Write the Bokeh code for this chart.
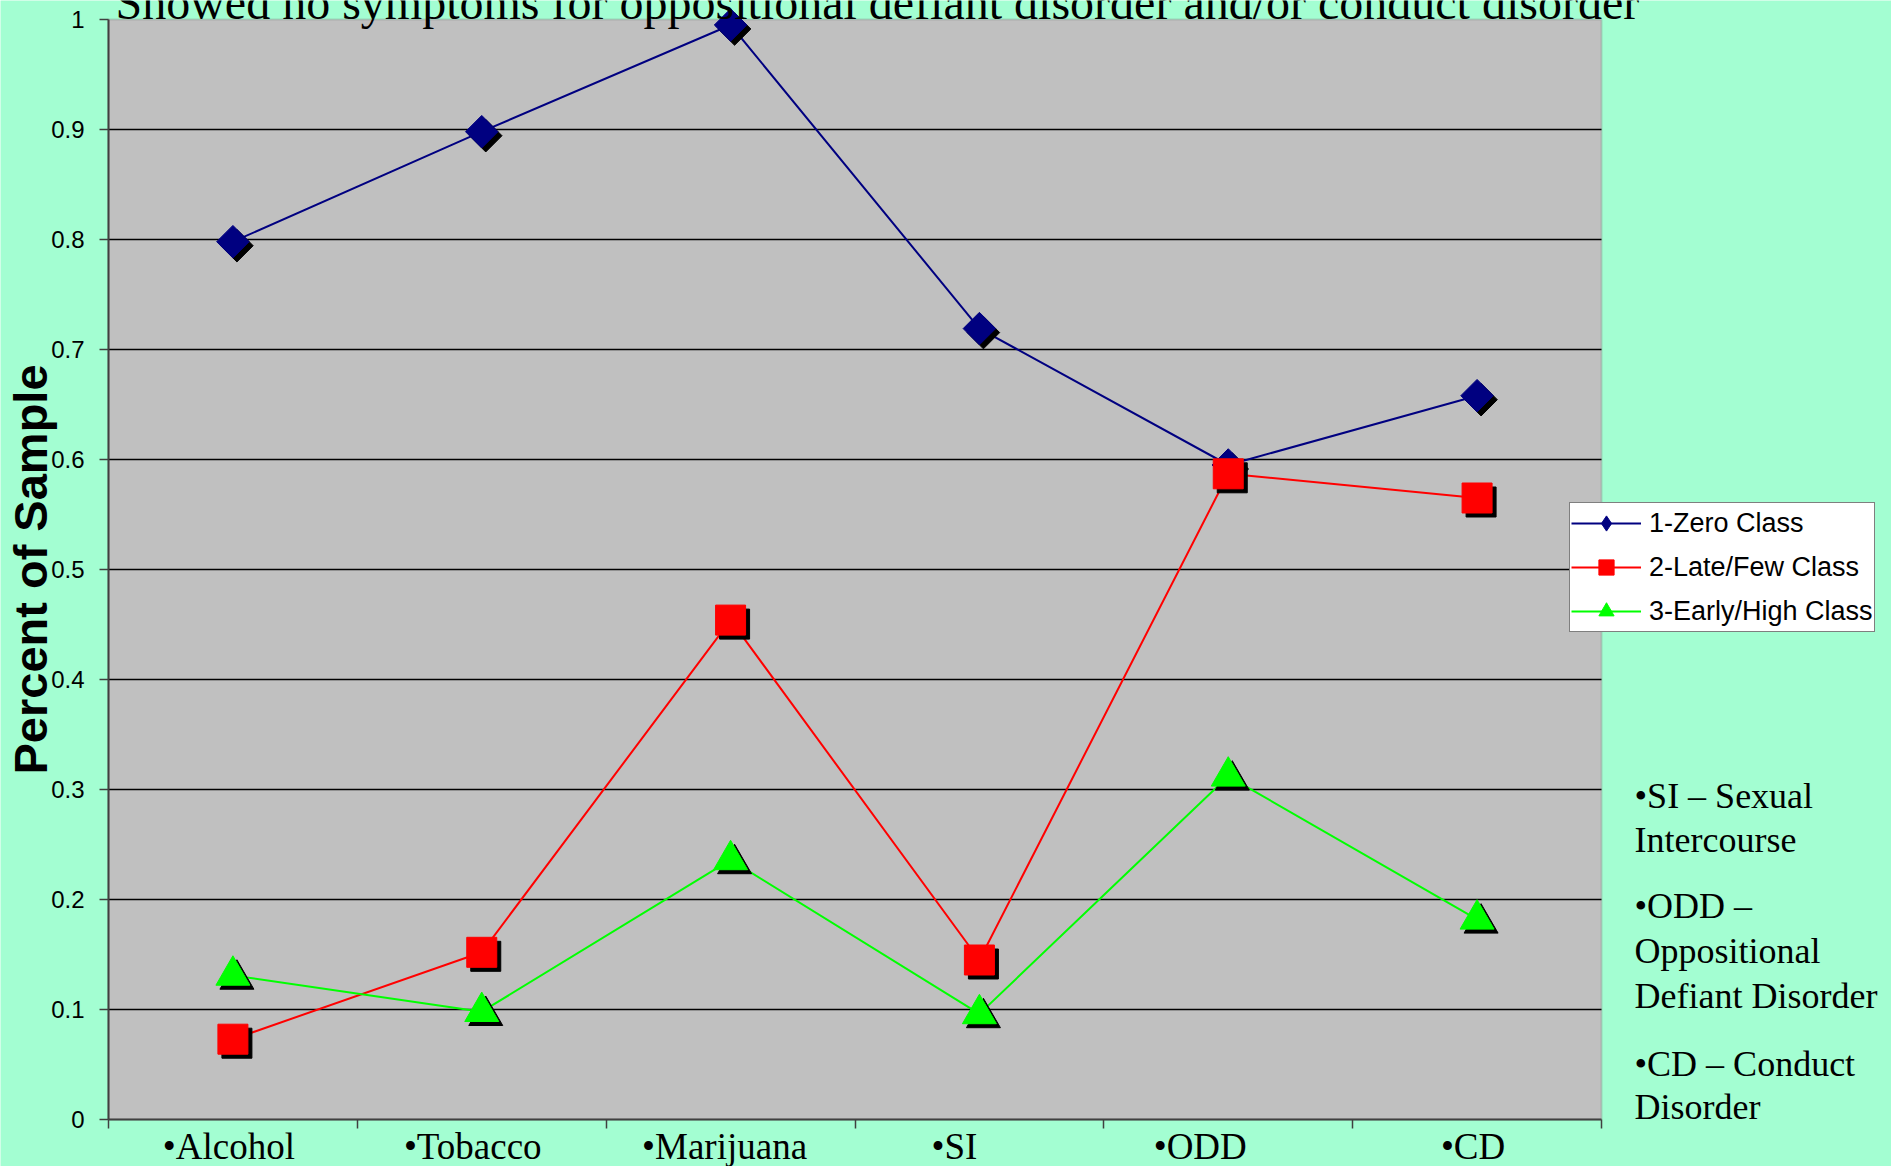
import numpy as np
from bokeh.plotting import figure
from bokeh.models import (ColumnDataSource, Range1d, FixedTicker, Label, LabelSet,
                          Legend, LegendItem, BoxAnnotation)
from bokeh.transform import dodge
from bokeh.core.properties import value
from bokeh.embed import file_html
from bokeh.resources import INLINE

# ---------------- data ----------------
categories = ["•Alcohol", "•Tobacco", "•Marijuana", "•SI", "•ODD", "•CD"]
zero_class = [0.798, 0.898, 0.995, 0.719, 0.595, 0.658]
late_few_class = [0.073, 0.152, 0.454, 0.145, 0.587, 0.565]
early_high_class = [0.131, 0.098, 0.236, 0.096, 0.312, 0.182]
series_names = ["1-Zero Class", "2-Late/Few Class", "3-Early/High Class"]
y_ticks = [0, 0.1, 0.2, 0.3, 0.4, 0.5, 0.6, 0.7, 0.8, 0.9, 1.0]
y_tick_labels = ["0", "0.1", "0.2", "0.3", "0.4", "0.5", "0.6", "0.7", "0.8", "0.9", "1"]
title_text = "Showed no symptoms for oppositional defiant disorder and/or conduct disorder"
y_axis_title = "Percent of Sample"
note_lines = ["•SI – Sexual", "Intercourse", "•ODD –", "Oppositional",
              "Defiant Disorder", "•CD – Conduct", "Disorder"]

# ---------------- styling / layout (pixels on the page) ----------------
BG = "#a3fed2"
SERIF = "Liberation Serif"
SANS = "Liberation Sans"
W, H = 1891, 1166
AX_X, AX_Y = 108, 1119           # page position of the axes' origin
PLOT_W, PLOT_H = 1493, 1100      # page size of the gray plot area
note_x_px = 1634
note_baseline_px = [807, 851, 917, 962, 1007, 1075, 1118]
title_x_px, title_baseline_px = 115, 18
ylab_baseline_px, ylab_center_px = 46, 569
cat_label_baseline_px = 1158
cat_label_shift_px = [-4, -9, -6, -25, -28, -4]
BASE_SHIFT = 0.33                # baseline correction for single labels, in em

n = len(categories)
centers = list(np.arange(n) + 0.5)
bounds_x = list(range(n + 1))
px_x = PLOT_W / n
px_y = PLOT_H / 1.0


def dx_(px):
    return (px - AX_X) / px_x


def dy_(px):
    return (AX_Y - px) / px_y


src = ColumnDataSource(dict(x=centers, zero=zero_class, late=late_few_class,
                            early=early_high_class))
cat_src = ColumnDataSource(dict(x=centers, y=[0.0] * n, text=categories,
                                xoff=cat_label_shift_px))

p = figure(width=W, height=H, x_range=Range1d(dx_(0), dx_(W)),
           y_range=Range1d(dy_(H), dy_(0)),
           output_backend="svg", toolbar_location=None,
           min_border_left=0, min_border_right=0, min_border_top=0,
           min_border_bottom=0)
p.background_fill_color = BG
p.border_fill_color = BG
p.outline_line_color = None

# plot area (gray box spanning the axis ranges)
p.add_layout(BoxAnnotation(left=0, right=n, bottom=y_ticks[0], top=y_ticks[-1],
                           fill_color="#c0c0c0", fill_alpha=1.0,
                           line_color="#808080", line_width=2, level="image"))

# x axis: tick marks at category boundaries
p.xaxis.fixed_location = 0
p.xaxis.ticker = FixedTicker(ticks=[], minor_ticks=bounds_x)
p.xaxis.bounds = (0, n)
p.xaxis.minor_tick_out = 9
p.xaxis.minor_tick_in = 0
p.xaxis.minor_tick_line_color = "#404040"
p.xaxis.minor_tick_line_width = 1.5
p.xaxis.axis_line_color = "#404040"
p.xaxis.axis_line_width = 2

# category labels under the axis
p.add_layout(LabelSet(x="x", y="y", text="text", source=cat_src, x_offset="xoff",
                      y_offset=-(cat_label_baseline_px - AX_Y),
                      text_align="center", text_baseline="alphabetic",
                      text_font=value(SERIF), text_font_size="37px",
                      text_color="black"))

# y axis
p.yaxis.fixed_location = 0
p.yaxis.ticker = FixedTicker(ticks=y_ticks)
p.yaxis.bounds = (y_ticks[0], y_ticks[-1])
p.yaxis.major_label_overrides = dict(zip(y_ticks, y_tick_labels))
p.yaxis.major_label_text_font = SANS
p.yaxis.major_label_text_font_size = "24px"
p.yaxis.major_label_text_color = "black"
p.yaxis.major_label_standoff = 15
p.yaxis.major_tick_out = 9
p.yaxis.major_tick_in = 0
p.yaxis.minor_tick_line_color = None
p.yaxis.axis_line_color = "#404040"
p.yaxis.axis_line_width = 2
p.yaxis.major_tick_line_color = "#404040"
p.yaxis.major_tick_line_width = 1.5

p.xgrid.grid_line_color = None
p.ygrid.ticker = FixedTicker(ticks=y_ticks[1:-1])
p.ygrid.cross_bounds = (0, n)
p.ygrid.grid_line_color = "black"
p.ygrid.grid_line_width = 1.3

# lines
l0 = p.line("x", "zero", source=src, line_color="#000080", line_width=2)
l1 = p.line("x", "late", source=src, line_color="#ff0000", line_width=2)
l2 = p.line("x", "early", source=src, line_color="#00ff00", line_width=2)

sdx, sdy = 4 / px_x, -4 / px_y
markers = [
    ("zero", "square", 23, np.pi / 4, "#000080"),
    ("late", "square", 30, 0.0, "#ff0000"),
    ("early", "triangle", 34, 0.0, "#00ff00"),
]
marker_renderers = []
for col, mk, sz, ang, colr in markers:
    p.scatter(x=dodge("x", sdx), y=dodge(col, sdy), source=src, marker=mk, size=sz,
              angle=ang, fill_color="black", line_color="black")
    r = p.scatter("x", col, source=src, marker=mk, size=sz, angle=ang,
                  fill_color=colr, line_color=colr)
    marker_renderers.append(r)

# legend-only diamond (no data points, so nothing drawn on the chart)
legend_diamond = p.scatter(x=[np.nan], y=[np.nan], marker="diamond", size=20,
                           fill_color="#000080", line_color="#000080")

legend = Legend(items=[LegendItem(label=series_names[0], renderers=[l0, legend_diamond]),
                       LegendItem(label=series_names[1], renderers=[l1, marker_renderers[1]]),
                       LegendItem(label=series_names[2], renderers=[l2, marker_renderers[2]])],
                location=(1569, H - 632))
legend.background_fill_color = "white"
legend.background_fill_alpha = 1
legend.border_line_color = "black"
legend.border_line_width = 1
legend.padding = 1
legend.spacing = 6
legend.margin = 0
legend.glyph_height = 38
legend.glyph_width = 70
legend.label_height = 38
legend.label_standoff = 8
legend.label_text_font = SANS
legend.label_text_font_size = "27px"
legend.label_text_color = "black"
p.add_layout(legend, "center")

# title (cut at the top of the slide)
p.add_layout(Label(x=dx_(title_x_px), y=dy_(title_baseline_px - BASE_SHIFT * 48),
                   text=title_text, text_font=SERIF, text_font_size="48px",
                   text_align="left", text_baseline="alphabetic", text_color="black"))

# y axis title
p.add_layout(Label(x=dx_(ylab_baseline_px - BASE_SHIFT * 47), y=dy_(ylab_center_px),
                   text=y_axis_title, angle=np.pi / 2, text_font=SANS,
                   text_font_style="bold", text_font_size="47px",
                   text_align="center", text_baseline="alphabetic", text_color="black"))

# notes on the right
for line, yb in zip(note_lines, note_baseline_px):
    p.add_layout(Label(x=dx_(note_x_px), y=dy_(yb - BASE_SHIFT * 36), text=line,
                       text_font=SERIF, text_font_size="36px", text_align="left",
                       text_baseline="alphabetic", text_color="black"))

html = file_html(p, INLINE, title="chart")
html = html.replace("<body>", '<body style="background-color:%s; overflow:hidden;">' % BG, 1)
open("out.html", "w").write(html)
